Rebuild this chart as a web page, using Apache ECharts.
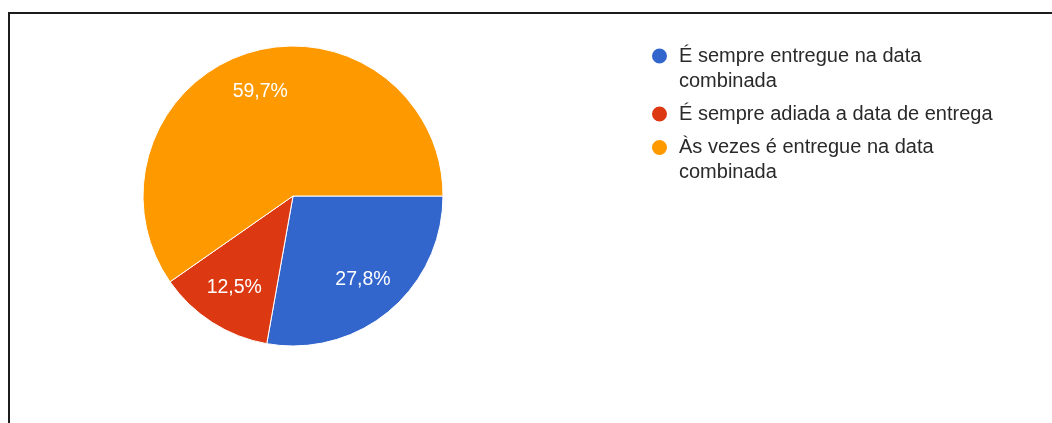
<!DOCTYPE html>
<html>
<head>
<meta charset="utf-8">
<script src="https://cdn.jsdelivr.net/npm/echarts@6/dist/echarts.min.js"></script>
<style>
  html, body { margin: 0; padding: 0; background: #fff; }
  #chart { position: absolute; left: 0; top: 0; width: 1052px; height: 423px; }
  #frame {
    position: absolute; left: 8px; top: 12px; right: -10px; bottom: -10px;
    border-left: 2px solid #1c1c1c; border-top: 2px solid #1c1c1c;
    pointer-events: none;
  }
</style>
</head>
<body>
<div id="chart"></div>
<div id="frame"></div>
<script>
// Survey answers about delivery dates (share of responses, %)
const categories = [
  'É sempre entregue na data combinada',
  'É sempre adiada a data de entrega',
  'Às vezes é entregue na data combinada'
];
const shares = [27.8, 12.5, 59.7];
const colors = ['#3366cc', '#dc3912', '#ff9900'];

const pieData = categories.map((name, i) => ({
  name: name,
  value: shares[i],
  itemStyle: { color: colors[i] }
}));

const fmtPct = p => p.value.toFixed(1).replace('.', ',') + '%';

const FONT = '"Liberation Sans", Arial, sans-serif';
const legendText = {
  fontFamily: FONT,
  fontSize: 20,
  color: '#2a2a2a',
  lineHeight: 25,
  width: 336,
  overflow: 'break',
  padding: [0, 0, 0, 6]
};

// every legend entry keeps its marker beside the first line of its text:
// a leading blank line makes that first line the vertical middle of the block
const firstLineOnMarker = name => '\n' + name;

const chart = echarts.init(document.getElementById('chart'), null, { renderer: 'canvas' });
chart.setOption({
  animation: false,
  legend: [
    {
      orient: 'vertical',
      left: 650,
      top: 18.5,
      padding: 0,
      icon: 'circle',
      itemWidth: 17,
      itemHeight: 17,
      selectedMode: false,
      formatter: firstLineOnMarker,
      data: [categories[0]],
      textStyle: legendText
    },
    {
      orient: 'vertical',
      left: 650,
      top: 101.5,
      padding: 0,
      icon: 'circle',
      itemWidth: 17,
      itemHeight: 17,
      itemGap: 8,
      selectedMode: false,
      data: [categories[1]],
      textStyle: legendText
    },
    {
      orient: 'vertical',
      left: 650,
      top: 110,
      padding: 0,
      icon: 'circle',
      itemWidth: 17,
      itemHeight: 17,
      selectedMode: false,
      formatter: firstLineOnMarker,
      data: [categories[2]],
      textStyle: legendText
    }
  ],
  series: [
    {
      type: 'pie',
      center: [293, 196],
      radius: 150,
      startAngle: 0,
      clockwise: true,
      data: pieData,
      itemStyle: { borderColor: '#fff', borderWidth: 1 },
      label: { show: false },
      labelLine: { show: false },
      emphasis: { disabled: true }
    },
    {
      // percentage labels, placed around 70% of the radius
      type: 'pie',
      center: [293, 196],
      radius: [62, 150],
      startAngle: 0,
      clockwise: true,
      silent: true,
      data: pieData.map(d => ({ name: d.name, value: d.value })),
      itemStyle: { color: 'rgba(0,0,0,0)', borderWidth: 0 },
      label: {
        show: true,
        position: 'inside',
        formatter: fmtPct,
        color: '#fff',
        fontFamily: FONT,
        fontSize: 19.5
      },
      labelLine: { show: false },
      emphasis: { disabled: true }
    }
  ]
});
</script>
</body>
</html>
